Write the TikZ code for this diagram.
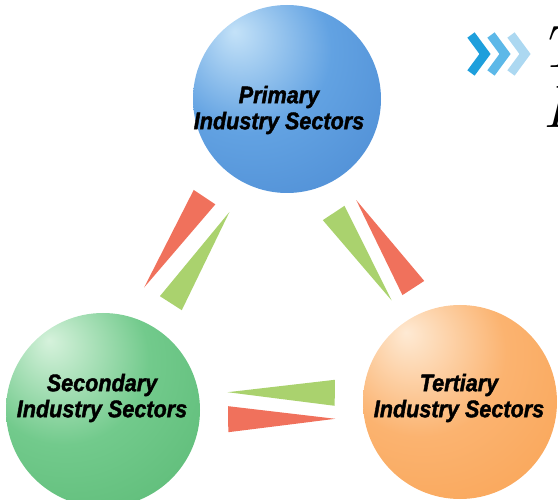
\documentclass[tikz,border=0pt]{standalone}
\usepackage{fontspec}
\usepackage[HTML]{xcolor}
\usepackage{tikz}
\usetikzlibrary{positioning, calc}

\newfontfamily\sectorfont[FakeStretch=0.9, BoldItalicFeatures={FakeBold=1.6}]{Liberation Sans}

\definecolor{bluehi}{HTML}{C4E2F8}
\definecolor{bluemid}{HTML}{62A2E2}
\definecolor{blueedge}{HTML}{3C7AC8}
\definecolor{greenhi}{HTML}{D6F2DC}
\definecolor{greenmid}{HTML}{72CA8C}
\definecolor{greenedge}{HTML}{4AAE64}
\definecolor{orangehi}{HTML}{FEEAD4}
\definecolor{orangemid}{HTML}{FBB370}
\definecolor{orangeedge}{HTML}{F79840}
\definecolor{wedgered}{HTML}{F0715C}
\definecolor{wedgegreen}{HTML}{AAD26E}
\definecolor{chevA}{HTML}{1E9FDC}
\definecolor{chevB}{HTML}{5CB8E8}
\definecolor{chevC}{HTML}{ACD8F1}

\pgfdeclareradialshading{primshade}{\pgfpoint{-14bp}{18bp}}{color(0bp)=(bluehi); color(22bp)=(bluemid); color(64bp)=(blueedge); color(80bp)=(blueedge)}
\pgfdeclareradialshading{secshade}{\pgfpoint{-14bp}{18bp}}{color(0bp)=(greenhi); color(22bp)=(greenmid); color(64bp)=(greenedge); color(80bp)=(greenedge)}
\pgfdeclareradialshading{tertshade}{\pgfpoint{-14bp}{18bp}}{color(0bp)=(orangehi); color(22bp)=(orangemid); color(64bp)=(orangeedge); color(80bp)=(orangeedge)}

% wedge: colour, from, to, base offset, tip offset
\newcommand{\flowwedge}[5]{%
  \coordinate (wb) at ($(#2.center)!0.35!(#3.center)!#4!90:(#3.center)$);
  \coordinate (wt) at ($(#2.center)!0.65!(#3.center)!#5!90:(#3.center)$);
  \fill[#1] ($(wb)!13pt!90:(wt)$) -- (wt) -- ($(wb)!13pt!-90:(wt)$) -- cycle;
}

\begin{document}
\begin{tikzpicture}[x=1pt, y=-1pt,
  sphere/.style={circle, inner sep=0pt, outer sep=0pt},
  sectorlabel/.style={align=center, text=black,
    font=\sectorfont\bfseries\itshape\fontsize{24}{26}\selectfont},
  chevron/.style={line width=9pt, miter limit=10},
  titlefont/.style={anchor=base west, inner sep=0pt, font=\itshape\fontsize{60}{60}\selectfont}]
\useasboundingbox (0,0) rectangle (558,500);
\clip (0,0) rectangle (558,500);

% Spheres
\node[sphere, minimum size=188pt, shading=primshade] (prim) at (287,99) {};
\node[sphere, minimum size=194pt, shading=secshade] (sec) at (103,410) {};
\node[sphere, minimum size=194pt, shading=tertshade] (tert) at (460,402) {};

% Sphere labels
\node[sectorlabel] (prim-label) at ([shift={(-8,11)}]prim.center) {Primary\\Industry Sectors};
\node[sectorlabel] (sec-label) at ([shift={(-1,-12)}]sec.center) {Secondary\\Industry Sectors};
\node[sectorlabel] (tert-label) at ([shift={(-1,-4)}]tert.center) {Tertiary\\Industry Sectors};

% Wedges between spheres
\flowwedge{wedgered}{prim}{sec}{-21pt}{-27pt}
\flowwedge{wedgegreen}{sec}{prim}{-4pt}{-8pt}
\flowwedge{wedgegreen}{prim}{tert}{-16pt}{-9pt}
\flowwedge{wedgered}{tert}{prim}{-16pt}{-10pt}
\flowwedge{wedgegreen}{tert}{sec}{-12pt}{-15pt}
\flowwedge{wedgered}{sec}{tert}{-12pt}{-14pt}

% Chevrons and cut-off title
\foreach \col [count=\i from 0] in {chevA, chevB, chevC}
  \draw[chevron, \col] (471+20*\i,35) -- (485+20*\i,54) -- (471+20*\i,73);
\node[titlefont] (title-a) at (539,68) {T};
\node[titlefont] (title-b) at (543,128) {I};
\end{tikzpicture}
\end{document}
